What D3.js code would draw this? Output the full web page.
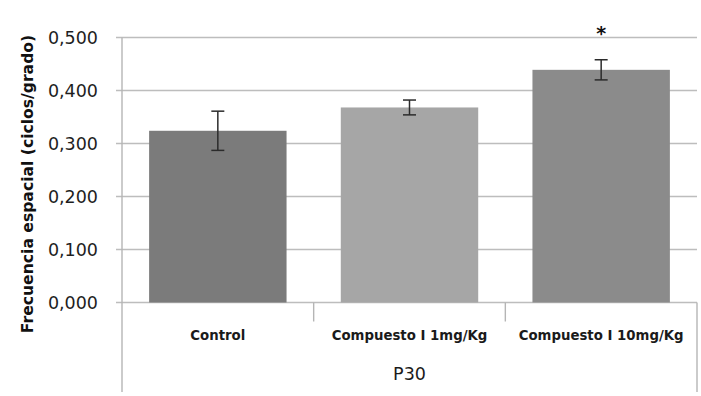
<!DOCTYPE html>
<html>
<head>
<meta charset="utf-8">
<script src="https://cdn.jsdelivr.net/npm/d3@7"></script>
<style>
  body { margin: 0; background: #fff; }
  svg { display: block; }
</style>
</head>
<body>
<svg id="chart" width="701" height="396"></svg>
<script>
// data
const categories = ["Control", "Compuesto I 1mg/Kg", "Compuesto I 10mg/Kg"];
const values = [0.324, 0.368, 0.439];
const errors = [0.037, 0.014, 0.019];
const significant = [false, false, true];
const barColors = ["#7b7b7b", "#a6a6a6", "#8b8b8b"];
const yTicks = [0, 0.1, 0.2, 0.3, 0.4, 0.5];
const groupLabel = "P30";
const yTitle = "Frecuencia espacial (ciclos/grado)";

const width = 701, height = 396;
const margin = { top: 37.5, right: 4, bottom: 93.5, left: 122 };
const svg = d3.select('#chart');

const x = d3.scaleBand()
  .domain(categories)
  .range([margin.left, width - margin.right])
  .paddingInner(0.283)
  .paddingOuter(0.1415);

const y = d3.scaleLinear()
  .domain([0, 0.5])
  .range([height - margin.bottom, margin.top]);

const fmt = v => d3.format('.3f')(v).replace('.', ',');

/* gridlines + y ticks */
svg.append('g')
  .selectAll('line')
  .data(yTicks)
  .enter().append('line')
  .attr('x1', margin.left - 6)
  .attr('x2', width - margin.right)
  .attr('y1', d => y(d))
  .attr('y2', d => y(d))
  .attr('stroke', '#bdbdbd')
  .attr('stroke-width', 1.6);

svg.append('g')
  .selectAll('text')
  .data(yTicks)
  .enter().append('text')
  .attr('x', 98)
  .attr('y', d => y(d))
  .attr('dy', '0.36em')
  .attr('text-anchor', 'end')
  .style('font-family', 'DejaVu Sans')
  .style('font-size', '17.5px')
  .attr('fill', '#1e1e1e')
  .text(fmt);

// y axis line
svg.append('line')
  .attr('x1', margin.left).attr('x2', margin.left)
  .attr('y1', y(0.5)).attr('y2', 392)
  .attr('stroke', '#b5b5b5').attr('stroke-width', 1.4);

// right outer line of the category box
svg.append('line')
  .attr('x1', width - margin.right).attr('x2', width - margin.right)
  .attr('y1', y(0)).attr('y2', 392)
  .attr('stroke', '#b5b5b5').attr('stroke-width', 1.4);

// dividers between categories
const step = x.step();
svg.append('g')
  .selectAll('line')
  .data(categories.slice(1))
  .enter().append('line')
  .attr('x1', d => x(d) - x.paddingInner() * step / 2)
  .attr('x2', d => x(d) - x.paddingInner() * step / 2)
  .attr('y1', y(0))
  .attr('y2', y(0) + 19)
  .attr('stroke', '#b5b5b5')
  .attr('stroke-width', 1.4);

/* bars */
svg.append('g')
  .selectAll('rect')
  .data(values)
  .enter().append('rect')
  .attr('x', (d, i) => x(categories[i]))
  .attr('y', d => y(d))
  .attr('width', x.bandwidth())
  .attr('height', d => y(0) - y(d))
  .attr('fill', (d, i) => barColors[i]);

/* error bars */
const eb = svg.append('g')
  .attr('stroke', '#2b2b2b')
  .attr('stroke-width', 1.5);

values.forEach((v, i) => {
  const cx = x(categories[i]) + x.bandwidth() / 2;
  const hi = y(v + errors[i]), lo = y(v - errors[i]);
  eb.append('line').attr('x1', cx).attr('x2', cx).attr('y1', hi).attr('y2', lo);
  eb.append('line').attr('x1', cx - 6.5).attr('x2', cx + 6.5).attr('y1', hi).attr('y2', hi);
  eb.append('line').attr('x1', cx - 6.5).attr('x2', cx + 6.5).attr('y1', lo).attr('y2', lo);
});

// significance star
svg.append('g')
  .selectAll('text')
  .data(values.map((v, i) => ({ v, i })).filter(d => significant[d.i]))
  .enter().append('text')
  .attr('x', d => x(categories[d.i]) + x.bandwidth() / 2)
  .attr('y', 40)
  .attr('text-anchor', 'middle')
  .style('font-family', 'DejaVu Sans')
  .style('font-weight', 'bold')
  .style('font-size', '19px')
  .attr('fill', '#111')
  .text('*');

/* category labels */
svg.append('g')
  .selectAll('text')
  .data(categories)
  .enter().append('text')
  .attr('x', d => x(d) + x.bandwidth() / 2)
  .attr('y', 340)
  .attr('text-anchor', 'middle')
  .style('font-family', 'DejaVu Sans')
  .style('font-weight', 'bold')
  .style('font-size', '13.3px')
  .attr('fill', '#1a1a1a')
  .text(d => d);

svg.append('text')
  .attr('x', (margin.left + width - margin.right) / 2)
  .attr('y', 380)
  .attr('text-anchor', 'middle')
  .style('font-family', 'DejaVu Sans')
  .style('font-size', '17.5px')
  .attr('fill', '#1a1a1a')
  .text(groupLabel);

/* y title */
svg.append('text')
  .attr('transform', 'translate(27,' + 184 + ') rotate(-90)')
  .attr('dy', '0.36em')
  .attr('text-anchor', 'middle')
  .style('font-family', 'DejaVu Sans')
  .style('font-weight', 'bold')
  .style('font-size', '15.6px')
  .attr('fill', '#111')
  .text(yTitle);
</script>
</body>
</html>
